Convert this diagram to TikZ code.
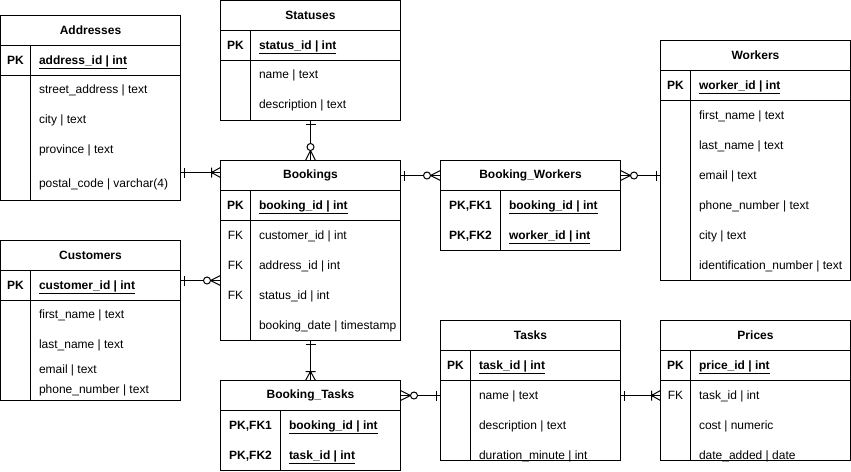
\documentclass[tikz,border=0pt]{standalone}
\usepackage{fontspec}
\setmainfont{Liberation Sans}

\tikzset{
  tbl/.style={draw, anchor=north west, inner sep=0pt, outer sep=0pt},
  ttl/.style={tbl, font=\bfseries, minimum height=30pt},
  fld/.style={anchor=west, inner sep=0pt, text height=9pt, text depth=3pt, yshift=-1pt},
  key/.style={inner sep=0pt, text height=9pt, text depth=3pt, yshift=-1pt},
  pkey/.style={key, font=\bfseries},
  endmark/.style={pos=1, sloped, allow upside down},
  startmark/.style={pos=0, sloped, allow upside down, rotate=180},
  mone/.pic={\draw (-4,-5) -- (-4,5);},
  omany/.pic={\draw (-9,-5) -- (-9,5) (0,-5) -- (-9,0) -- (0,5);},
  zmany/.pic={\draw (0,-5) -- (-10,0) -- (0,5); \draw[fill=white] (-13.5,0) circle (3.5);},
}
\newcommand{\pkf}[1]{\underline{\textbf{#1}}}

\begin{document}
\fontsize{12}{14}\selectfont
\begin{tikzpicture}[x=1pt, y=-1pt, line width=1pt]
  \useasboundingbox (-0.5,-0.5) rectangle (850.5,470.5);

  % Addresses
  \node[tbl, minimum width=180pt, minimum height=185pt] (adr) at (0,15) {};
  \node[ttl, minimum width=180pt] (adr-t) at (adr.north west) {Addresses};
  \draw (0,75) -- (180,75) (30,45) -- (30,200);
  \node[pkey] (adr-k) at (15,60) {PK};
  \node[fld] (adr-f0) at (38,60) {\pkf{address\_id | int}};
  \node[fld] (adr-f1) at (38,89) {street\_address | text};
  \node[fld] (adr-f2) at (38,119) {city | text};
  \node[fld] (adr-f3) at (38,149) {province | text};
  \node[fld] (adr-f4) at (38,183) {postal\_code | varchar(4)};

  % Statuses
  \node[tbl, minimum width=180pt, minimum height=120pt] (sts) at (220,0) {};
  \node[ttl, minimum width=180pt] (sts-t) at (sts.north west) {Statuses};
  \draw (220,60) -- (400,60) (250,30) -- (250,120);
  \node[pkey] (sts-k) at (235,45) {PK};
  \node[fld] (sts-f0) at (258,45) {\pkf{status\_id | int}};
  \node[fld] (sts-f1) at (258,74) {name | text};
  \node[fld] (sts-f2) at (258,104) {description | text};

  % Bookings
  \node[tbl, minimum width=180pt, minimum height=180pt] (bkg) at (220,160) {};
  \node[ttl, minimum width=180pt] (bkg-t) at (bkg.north west) {Bookings};
  \draw (220,220) -- (400,220) (250,190) -- (250,340);
  \node[pkey] (bkg-k0) at (235,205) {PK};
  \node[key] (bkg-k1) at (235,235) {FK};
  \node[key] (bkg-k2) at (235,265) {FK};
  \node[key] (bkg-k3) at (235,295) {FK};
  \node[fld] (bkg-f0) at (258,205) {\pkf{booking\_id | int}};
  \node[fld] (bkg-f1) at (258,235) {customer\_id | int};
  \node[fld] (bkg-f2) at (258,265) {address\_id | int};
  \node[fld] (bkg-f3) at (258,295) {status\_id | int};
  \node[fld] (bkg-f4) at (258,325) {booking\_date | timestamp};

  % Booking_Workers
  \node[tbl, minimum width=180pt, minimum height=90pt] (bw) at (440,160) {};
  \node[ttl, minimum width=180pt] (bw-t) at (bw.north west) {Booking\_Workers};
  \draw (500,190) -- (500,250);
  \node[pkey] (bw-k0) at (470,205) {PK,FK1};
  \node[pkey] (bw-k1) at (470,235) {PK,FK2};
  \node[fld] (bw-f0) at (508,205) {\pkf{booking\_id | int}};
  \node[fld] (bw-f1) at (508,235) {\pkf{worker\_id | int}};

  % Workers
  \node[tbl, minimum width=190pt, minimum height=240pt] (wrk) at (660,40) {};
  \node[ttl, minimum width=190pt] (wrk-t) at (wrk.north west) {Workers};
  \draw (660,100) -- (850,100) (690,70) -- (690,280);
  \node[pkey] (wrk-k) at (675,85) {PK};
  \node[fld] (wrk-f0) at (698,85) {\pkf{worker\_id | int}};
  \node[fld] (wrk-f1) at (698,115) {first\_name | text};
  \node[fld] (wrk-f2) at (698,145) {last\_name | text};
  \node[fld] (wrk-f3) at (698,175) {email | text};
  \node[fld] (wrk-f4) at (698,205) {phone\_number | text};
  \node[fld] (wrk-f5) at (698,235) {city | text};
  \node[fld] (wrk-f6) at (698,265) {identification\_number | text};

  % Customers
  \node[tbl, minimum width=180pt, minimum height=160pt] (cst) at (0,240) {};
  \node[ttl, minimum width=180pt] (cst-t) at (cst.north west) {Customers};
  \draw (0,300) -- (180,300) (30,270) -- (30,400);
  \node[pkey] (cst-k) at (15,285) {PK};
  \node[fld] (cst-f0) at (38,285) {\pkf{customer\_id | int}};
  \node[fld] (cst-f1) at (38,314) {first\_name | text};
  \node[fld] (cst-f2) at (38,344) {last\_name | text};
  \node[fld] (cst-f3) at (38,369) {email | text};
  \node[fld] (cst-f4) at (38,389) {phone\_number | text};

  % Booking_Tasks
  \node[tbl, minimum width=180pt, minimum height=90pt] (bt) at (220,380) {};
  \node[ttl, minimum width=180pt] (bt-t) at (bt.north west) {Booking\_Tasks};
  \draw (280,410) -- (280,470);
  \node[pkey] (bt-k0) at (250,425) {PK,FK1};
  \node[pkey] (bt-k1) at (250,455) {PK,FK2};
  \node[fld] (bt-f0) at (288,425) {\pkf{booking\_id | int}};
  \node[fld] (bt-f1) at (288,455) {\pkf{task\_id | int}};

  % Tasks
  \node[tbl, minimum width=180pt, minimum height=140pt] (tsk) at (440,320) {};
  \node[ttl, minimum width=180pt] (tsk-t) at (tsk.north west) {Tasks};
  \draw (440,380) -- (620,380) (470,350) -- (470,460);
  \node[pkey] (tsk-k) at (455,365) {PK};
  \node[fld] (tsk-f0) at (478,365) {\pkf{task\_id | int}};
  \node[fld] (tsk-f1) at (478,395) {name | text};
  \node[fld] (tsk-f2) at (478,425) {description | text};
  \node[fld] (tsk-f3) at (478,455) {duration\_minute | int};

  % Prices
  \node[tbl, minimum width=190pt, minimum height=140pt] (prc) at (660,320) {};
  \node[ttl, minimum width=190pt] (prc-t) at (prc.north west) {Prices};
  \draw (660,380) -- (850,380) (690,350) -- (690,460);
  \node[pkey] (prc-k0) at (675,365) {PK};
  \node[key] (prc-k1) at (675,395) {FK};
  \node[fld] (prc-f0) at (698,365) {\pkf{price\_id | int}};
  \node[fld] (prc-f1) at (698,395) {task\_id | int};
  \node[fld] (prc-f2) at (698,425) {cost | numeric};
  \node[fld] (prc-f3) at (698,455) {date\_added | date};

  % relations
  \coordinate (a2b) at (200,172);
  \coordinate (c2b) at (200,280);
  \draw (adr.east |- a2b) -- (bkg.west |- a2b) pic[startmark]{mone} pic[endmark]{omany};
  \draw (sts.south) -- (bkg.north) pic[startmark]{mone} pic[endmark]{zmany};
  \draw (cst.east |- c2b) -- (bkg.west |- c2b) pic[startmark]{mone} pic[endmark]{zmany};
  \draw (bkg-t.east) -- (bw-t.west) pic[startmark]{mone} pic[endmark]{zmany};
  \draw (bw-t.east) -- (wrk.west |- bw-t.east) pic[startmark]{zmany} pic[endmark]{mone};
  \draw (bkg.south) -- (bt.north) pic[startmark]{mone} pic[endmark]{omany};
  \draw (bt-t.east) -- (tsk.west |- bt-t.east) pic[startmark]{zmany} pic[endmark]{mone};
  \draw (tsk.east |- bt-t.east) -- (prc.west |- bt-t.east) pic[startmark]{mone} pic[endmark]{omany};
\end{tikzpicture}
\end{document}
